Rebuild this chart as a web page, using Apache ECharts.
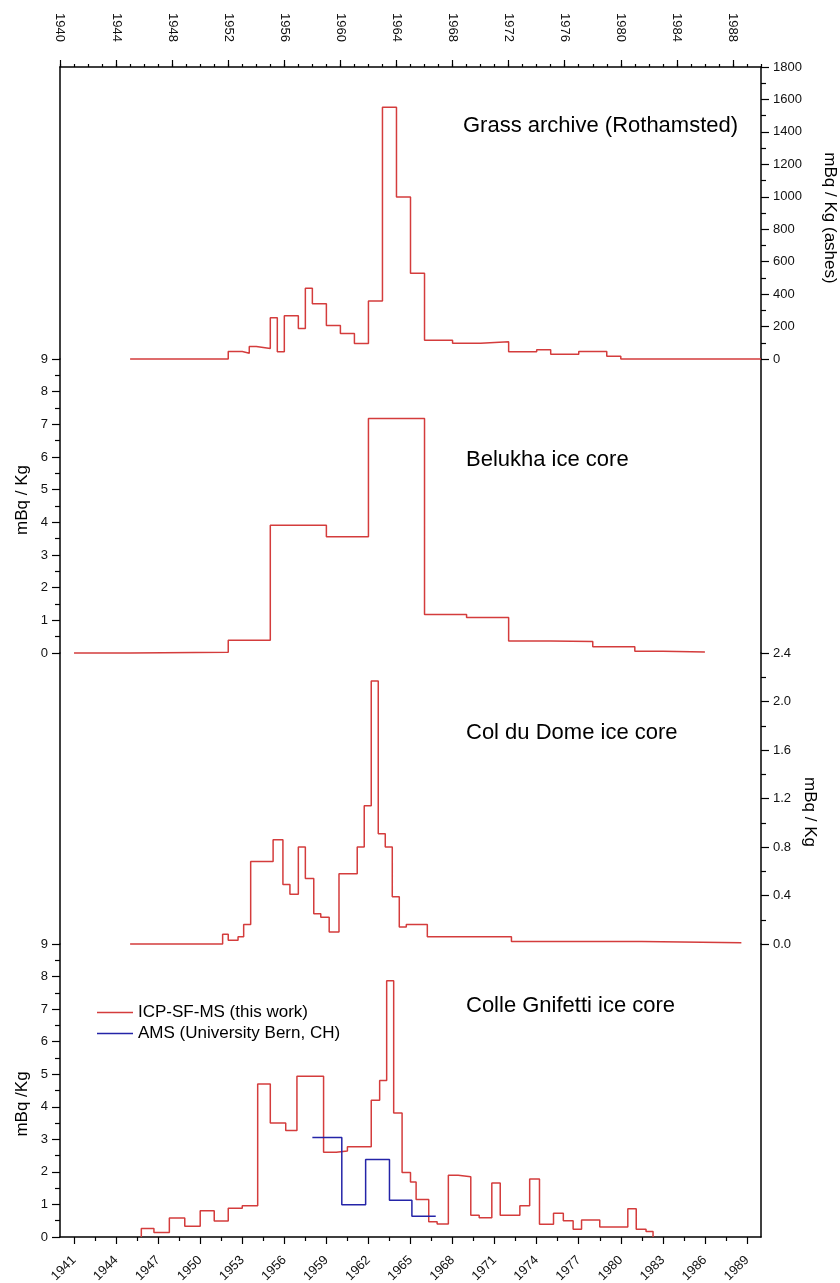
<!DOCTYPE html>
<html>
<head>
<meta charset="utf-8">
<script src="https://cdn.jsdelivr.net/npm/echarts@6/dist/echarts.min.js"></script>
<style>
html,body{margin:0;padding:0;background:#fff;}
#chart{width:840px;height:1283px;}
</style>
</head>
<body>
<div id="chart"></div>
<script>
// ---------------- data ----------------
const yearRange = [1940, 1990];
const topYearTicks = [1940, 1944, 1948, 1952, 1956, 1960, 1964, 1968, 1972, 1976, 1980, 1984, 1988];
const bottomYearTicks = [1941, 1944, 1947, 1950, 1953, 1956, 1959, 1962, 1965, 1968, 1971, 1974, 1977, 1980, 1983, 1986, 1989];
const grassTicks = [0, 200, 400, 600, 800, 1000, 1200, 1400, 1600, 1800];
const mBqTicks = [0, 1, 2, 3, 4, 5, 6, 7, 8, 9];
const colDuDomeTicks = [0, 0.4, 0.8, 1.2, 1.6, 2.0, 2.4];

// step series: value holds from its year until the next year
const grassYears = [1945, 1952, 1953, 1953.5, 1954, 1955, 1955.5, 1956, 1957, 1957.5, 1958, 1959, 1960, 1961, 1962, 1963, 1964, 1965, 1966, 1968, 1970, 1972, 1974, 1975, 1977, 1979, 1980, 1990];
const grassValues = [0, 46, 36, 77, 65, 255, 44, 266, 188, 436, 340, 206, 157, 95, 358, 1552, 998, 528, 116, 97, 106, 44, 57, 30, 46, 17, 0, 0];

const belukhaYears = [1941, 1945, 1952, 1955, 1959, 1962, 1966, 1969, 1972, 1975, 1978, 1981, 1983, 1986];
const belukhaValues = [0, 0.02, 0.39, 3.91, 3.56, 7.18, 1.18, 1.09, 0.37, 0.35, 0.19, 0.05, 0.03, 0.03];

const colDuDomeYears = [1945, 1951.6, 1952, 1952.7, 1953.1, 1953.6, 1955.2, 1955.9, 1956.4, 1957, 1957.5, 1958.1, 1958.6, 1959.2, 1959.9, 1961.2, 1961.7, 1962.2, 1962.7, 1963.2, 1963.7, 1964.2, 1964.7, 1966.2, 1972.2, 1981.5, 1988.6];
const colDuDomeValues = [0, 0.08, 0.03, 0.06, 0.16, 0.68, 0.86, 0.49, 0.41, 0.80, 0.54, 0.25, 0.22, 0.10, 0.58, 0.80, 1.14, 2.17, 0.91, 0.80, 0.39, 0.14, 0.16, 0.06, 0.02, 0.01, 0.01];

const gnifettiIcpYears = [1945.8, 1945.8, 1946.7, 1947.8, 1948.9, 1950.0, 1951.0, 1952.0, 1953.0, 1954.1, 1955.0, 1956.1, 1956.9, 1958.8, 1959.7, 1960.5, 1962.2, 1962.8, 1963.3, 1963.8, 1964.4, 1965.0, 1965.4, 1966.3, 1966.9, 1967.7, 1968.4, 1969.3, 1969.9, 1970.8, 1971.4, 1972.8, 1973.5, 1974.2, 1975.2, 1975.9, 1976.6, 1977.2, 1978.5, 1980.5, 1981.1, 1981.8, 1982.3];
const gnifettiIcpValues = [0, 0.26, 0.14, 0.58, 0.33, 0.81, 0.49, 0.88, 0.96, 4.70, 3.50, 3.27, 4.94, 2.60, 2.64, 2.77, 4.20, 4.81, 7.87, 3.81, 1.98, 1.69, 1.15, 0.47, 0.40, 1.90, 1.85, 0.67, 0.59, 1.66, 0.67, 0.96, 1.78, 0.39, 0.73, 0.50, 0.24, 0.52, 0.31, 0.87, 0.24, 0.17, 0];

const gnifettiAmsYears = [1958.0, 1960.1, 1961.8, 1963.5, 1965.1, 1966.8];
const gnifettiAmsValues = [3.06, 0.99, 2.38, 1.13, 0.64, 0.64];

const seriesNames = ['Grass archive (Rothamsted)', 'Belukha ice core', 'Col du Dome ice core', 'ICP-SF-MS (this work)', 'AMS (University Bern, CH)'];

// ---------------- layout / style ----------------
const FONT = '"Liberation Sans", Arial, Helvetica, sans-serif';
const RED = '#d43c3c';
const BLUE = '#2424a8';
const L = 60, R = 761, W = R - L;
const panelEdges = [67, 359, 653, 944, 1237];

function stepData(years, values) { return years.map((y, i) => [y, values[i]]); }
function tickSpec(arr) { return { min: arr[0], max: arr[arr.length - 1], interval: +(arr[1] - arr[0]).toFixed(6) }; }
function xPix(year) { return L + (year - yearRange[0]) / (yearRange[1] - yearRange[0]) * W; }

const blackLine = { color: '#000', width: 1.5 };
const tickLine = { color: '#000', width: 1.2 };

function grid(i) {
  return { left: L, width: W, top: panelEdges[i], height: panelEdges[i + 1] - panelEdges[i], outerBoundsMode: 'none', containLabel: false };
}

function labeledY(gridIndex, position, ticks, fmt) {
  const s = tickSpec(ticks);
  return {
    type: 'value', gridIndex, position, min: s.min, max: s.max, interval: s.interval,
    axisLine: { show: true, onZero: false, lineStyle: blackLine },
    axisTick: { show: true, length: 8, lineStyle: tickLine },
    minorTick: { show: true, splitNumber: 2, length: 5, lineStyle: tickLine },
    axisLabel: { fontSize: 13, color: '#111', margin: 12, fontFamily: FONT, formatter: fmt },
    splitLine: { show: false }, minorSplitLine: { show: false }
  };
}
function lineOnlyY(gridIndex, position) {
  return {
    type: 'value', gridIndex, position, min: 0, max: 1,
    axisLine: { show: true, onZero: false, lineStyle: blackLine },
    axisTick: { show: false }, axisLabel: { show: false }, splitLine: { show: false }
  };
}

const topS = tickSpec(topYearTicks);
const botS = tickSpec(bottomYearTicks);

const option = {
  animation: false,
  backgroundColor: '#fff',
  textStyle: { fontFamily: FONT },
  grid: [grid(0), grid(1), grid(2), grid(3),
    { left: xPix(botS.min), width: xPix(botS.max) - xPix(botS.min), top: panelEdges[3], height: panelEdges[4] - panelEdges[3], outerBoundsMode: 'none', containLabel: false }],
  xAxis: [
    { // 0: top frame line + yearly minor ticks
      type: 'value', gridIndex: 0, position: 'top', min: yearRange[0], max: yearRange[1], interval: 1,
      axisLine: { show: true, onZero: false, lineStyle: blackLine },
      axisTick: { show: true, length: 3, lineStyle: tickLine },
      axisLabel: { show: false }, splitLine: { show: false }
    },
    { // 1: top labelled ticks
      type: 'value', gridIndex: 0, position: 'top', min: topS.min, max: yearRange[1], interval: topS.interval,
      axisLine: { show: false, onZero: false },
      axisTick: { show: true, length: 7, lineStyle: tickLine },
      axisLabel: { show: true, rotate: 90, margin: 25, fontSize: 13, color: '#111', fontFamily: FONT, showMaxLabel: false, formatter: v => String(v) },
      splitLine: { show: false }
    },
    { type: 'value', gridIndex: 1, min: yearRange[0], max: yearRange[1], show: false },
    { type: 'value', gridIndex: 2, min: yearRange[0], max: yearRange[1], show: false },
    { // 4: bottom frame line
      type: 'value', gridIndex: 3, position: 'bottom', min: yearRange[0], max: yearRange[1],
      axisLine: { show: true, onZero: false, lineStyle: blackLine },
      axisTick: { show: false }, axisLabel: { show: false }, splitLine: { show: false }
    },
    { // 5: bottom labelled ticks
      type: 'value', gridIndex: 4, position: 'bottom', min: botS.min, max: botS.max, interval: botS.interval,
      axisLine: { show: false, onZero: false },
      axisTick: { show: true, length: 7, lineStyle: tickLine },
      minorTick: { show: true, splitNumber: 2, length: 4, lineStyle: tickLine },
      axisLabel: { show: true, rotate: 45, margin: 21, fontSize: 13, color: '#111', fontFamily: FONT, formatter: v => String(v) },
      splitLine: { show: false }, minorSplitLine: { show: false }
    }
  ],
  yAxis: [
    labeledY(0, 'right', grassTicks, v => String(v)),
    lineOnlyY(0, 'left'),
    labeledY(1, 'left', mBqTicks, v => String(v)),
    lineOnlyY(1, 'right'),
    labeledY(2, 'right', colDuDomeTicks, v => v.toFixed(1)),
    lineOnlyY(2, 'left'),
    labeledY(3, 'left', mBqTicks, v => String(v)),
    lineOnlyY(3, 'right'),
    { type: 'value', gridIndex: 4, min: 0, max: 1, show: false }
  ],
  title: [
    { text: 'Grass archive (Rothamsted)', left: 463, top: 115 },
    { text: 'Belukha ice core', left: 466, top: 449 },
    { text: 'Col du Dome ice core', left: 466, top: 722 },
    { text: 'Colle Gnifetti ice core', left: 466, top: 995 }
  ].map(t => Object.assign(t, { padding: 0, textStyle: { fontSize: 22, fontWeight: 'normal', color: '#000', fontFamily: FONT } })),
  legend: {
    data: [
      { name: seriesNames[3], icon: 'rect', itemStyle: { color: RED } },
      { name: seriesNames[4], icon: 'rect', itemStyle: { color: BLUE } }
    ],
    orient: 'vertical', left: 97, top: 1004, padding: 0,
    itemWidth: 36, itemHeight: 1.6, itemGap: 4,
    textStyle: { fontSize: 17, color: '#000', fontFamily: FONT }
  },
  graphic: [
    { type: 'text', x: 22, y: 500, rotation: Math.PI / 2, style: { text: 'mBq / Kg', font: '17px ' + FONT, fill: '#000', textAlign: 'center', textVerticalAlign: 'middle' } },
    { type: 'text', x: 22, y: 1104, rotation: Math.PI / 2, style: { text: 'mBq /Kg', font: '17px ' + FONT, fill: '#000', textAlign: 'center', textVerticalAlign: 'middle' } },
    { type: 'text', x: 830, y: 218, rotation: -Math.PI / 2, style: { text: 'mBq / Kg (ashes)', font: '17px ' + FONT, fill: '#000', textAlign: 'center', textVerticalAlign: 'middle' } },
    { type: 'text', x: 810, y: 812, rotation: -Math.PI / 2, style: { text: 'mBq / Kg', font: '17px ' + FONT, fill: '#000', textAlign: 'center', textVerticalAlign: 'middle' } }
  ],
  series: [
    { name: seriesNames[0], xAxisIndex: 0, yAxisIndex: 0, data: stepData(grassYears, grassValues), color: RED },
    { name: seriesNames[1], xAxisIndex: 2, yAxisIndex: 2, data: stepData(belukhaYears, belukhaValues), color: RED },
    { name: seriesNames[2], xAxisIndex: 3, yAxisIndex: 4, data: stepData(colDuDomeYears, colDuDomeValues), color: RED },
    { name: seriesNames[3], xAxisIndex: 4, yAxisIndex: 6, data: stepData(gnifettiIcpYears, gnifettiIcpValues), color: RED },
    { name: seriesNames[4], xAxisIndex: 4, yAxisIndex: 6, data: stepData(gnifettiAmsYears, gnifettiAmsValues), color: BLUE, z: 3 }
  ].map(s => Object.assign({
    type: 'line', step: 'end', symbol: 'none', showSymbol: false, clip: false, animation: false,
    lineStyle: { color: s.color, width: 1.5 }, itemStyle: { color: s.color }
  }, s))
};

const chart = echarts.init(document.getElementById('chart'), null, { renderer: 'canvas' });
chart.setOption(option);
</script>
</body>
</html>
